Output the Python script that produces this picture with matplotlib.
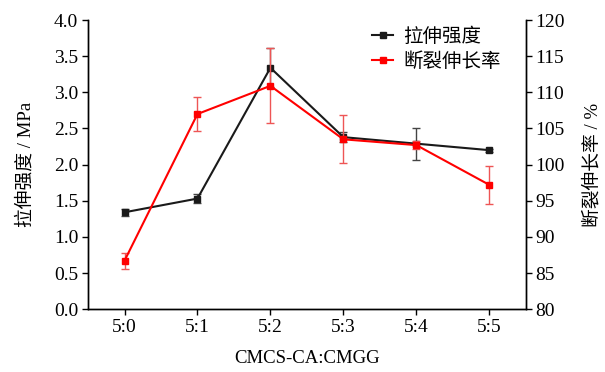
import matplotlib.pyplot as plt
from matplotlib.lines import Line2D

plt.rcParams['font.family'] = ['Liberation Serif', 'Noto Sans CJK SC']
plt.rcParams['axes.unicode_minus'] = False

ratios = ["5:0", "5:1", "5:2", "5:3", "5:4", "5:5"]
strength = [1.34, 1.53, 3.34, 2.38, 2.29, 2.20]
strength_err = [0.05, 0.06, 0.27, 0.07, 0.22, 0.02]
elong = [86.7, 107.0, 110.9, 103.5, 102.7, 97.2]
elong_err = [1.1, 2.4, 5.2, 3.3, 0.5, 2.6]

x = range(len(ratios))

fig = plt.figure(figsize=(6.05, 3.72), dpi=100)
ax = fig.add_axes([0.1455, 0.169, 0.7235, 0.777])
ax2 = ax.twinx()

ax.errorbar(x, strength, yerr=strength_err, color="#1a1a1a", marker="s", ms=4,
            lw=1.5, capsize=3, elinewidth=1, ecolor="#444444")
ax2.errorbar(x, elong, yerr=elong_err, color="#ff0000", marker="s", ms=4,
             lw=1.5, capsize=3, elinewidth=1, ecolor="#ee5555")

ax.set_xlim(-0.5, 5.5)
ax.set_ylim(0, 4.0)
ax2.set_ylim(80, 120)
ax.set_xticks(list(x))
ax.set_xticklabels(ratios)
ax.set_yticks([i * 0.5 for i in range(9)])
ax.set_yticklabels([f"{i * 0.5:.1f}" for i in range(9)])
ax2.set_yticks(range(80, 121, 5))

for a in (ax, ax2):
    a.spines["top"].set_visible(False)
    a.tick_params(labelsize=14, length=4, width=1, pad=3)
    for s in a.spines.values():
        s.set_linewidth(1)

ax.set_xlabel("CMCS-CA:CMGG", fontsize=13.5, labelpad=10)
ax.set_ylabel("拉伸强度 / MPa", fontsize=13.5, labelpad=14)
ax2.set_ylabel("断裂伸长率 / %", fontsize=13.5, labelpad=14)

handles = [Line2D([], [], color="#1a1a1a", marker="s", ms=4, lw=1.5),
           Line2D([], [], color="#ff0000", marker="s", ms=4, lw=1.5)]
ax.legend(handles, ["拉伸强度", "断裂伸长率"], loc="upper right", frameon=False,
          fontsize=14, handlelength=1.1, handletextpad=0.5, labelspacing=0.3,
          borderaxespad=0, bbox_to_anchor=(0.96, 1.0))

fig.savefig("out.png", dpi=100)
